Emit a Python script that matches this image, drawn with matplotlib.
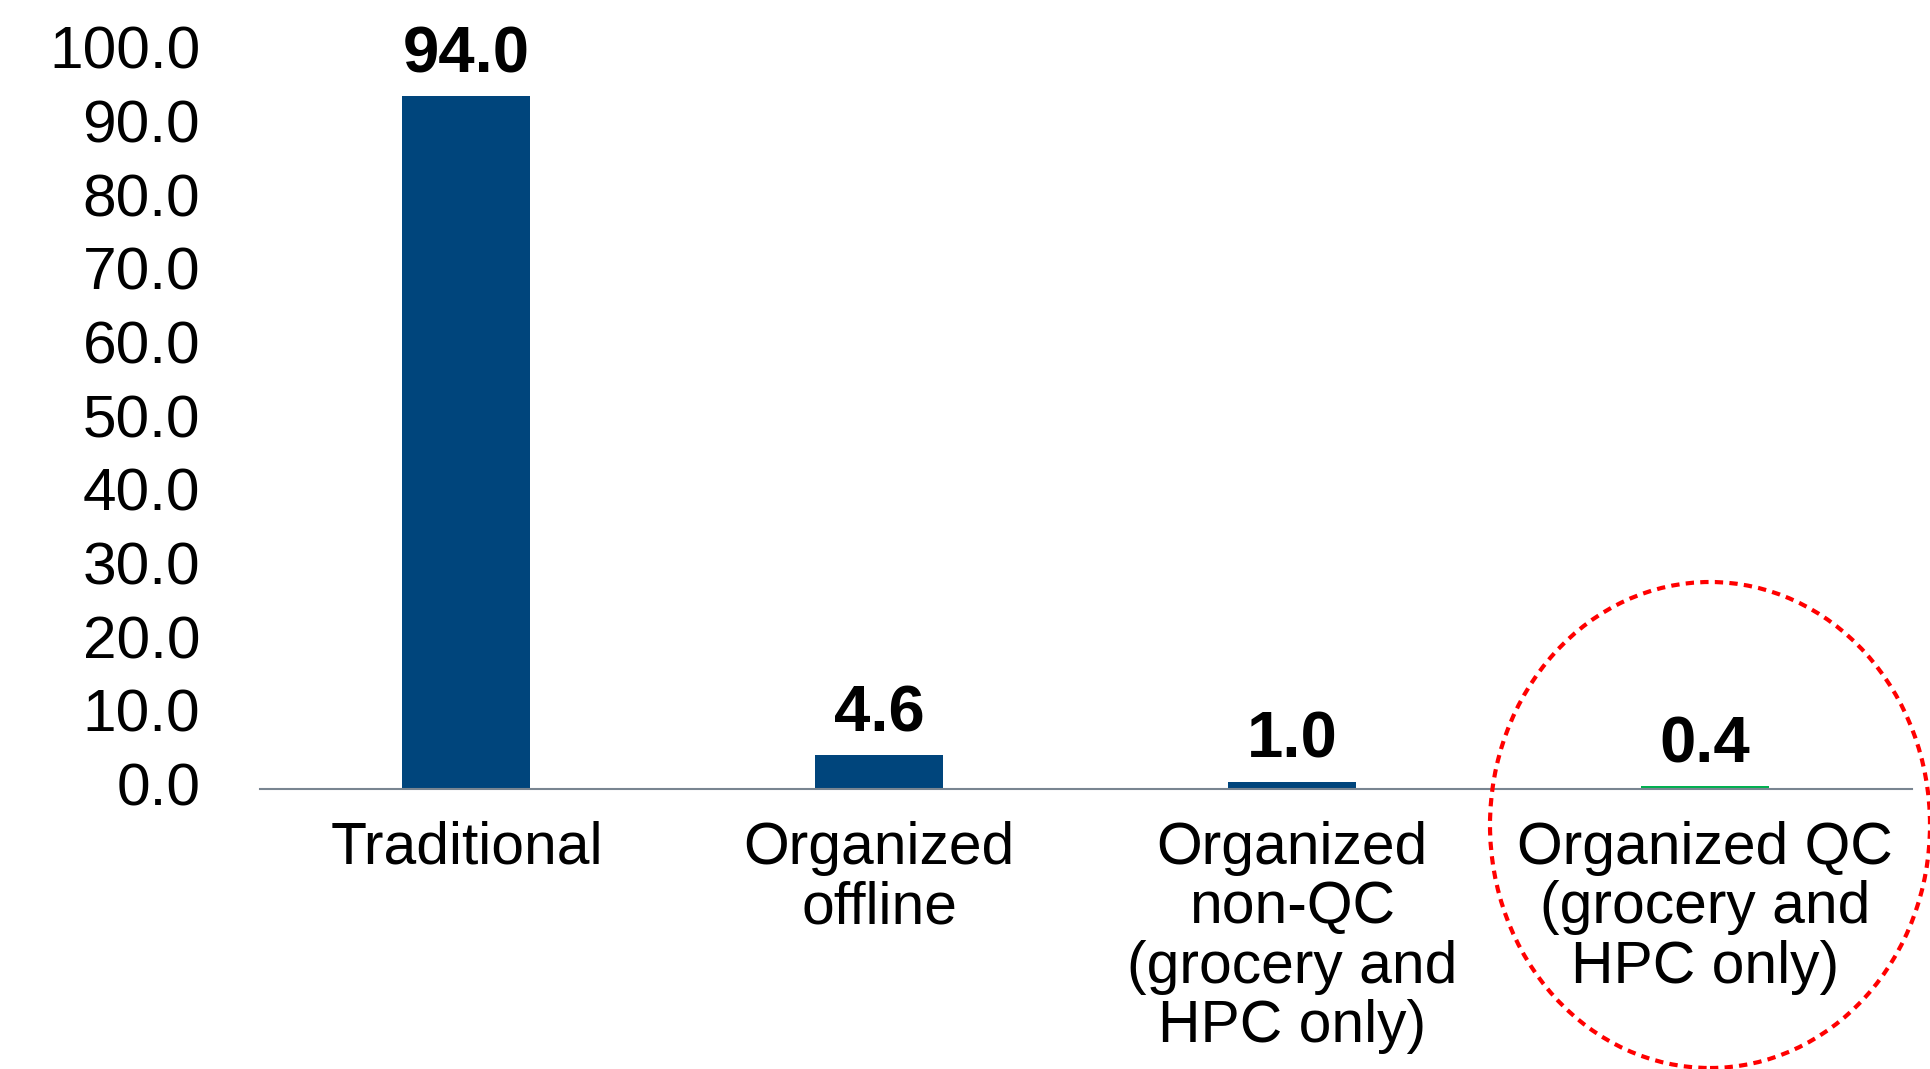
import matplotlib.pyplot as plt
import matplotlib.transforms as mtransforms
from matplotlib.patches import Ellipse

plt.rcParams['font.family'] = ['Liberation Sans', 'DejaVu Sans']

# Data
categories = ['Traditional', 'Organized\noffline', 'Organized\nnon-QC\n(grocery and\nHPC only)',
              'Organized QC\n(grocery and\nHPC only)']
values = [94.0, 4.6, 1.0, 0.4]
bar_colors = ['#00457C', '#00457C', '#00457C', '#00B050']
y_ticks = [0, 10, 20, 30, 40, 50, 60, 70, 80, 90, 100]

fig = plt.figure(figsize=(19.31, 10.69), dpi=100)
ax = fig.add_axes([0.1346, 0.2619, 0.8554, 0.6894])

x = list(range(len(categories)))
bars = ax.bar(x, values, width=0.31, color=bar_colors)

ax.set_xlim(-0.5, 3.5)
ax.set_ylim(0, 100)
ax.set_yticks(y_ticks)
ax.set_yticklabels([f'{t:.1f}' for t in y_ticks], fontsize=43.5)
ax.set_xticks(x)
ax.set_xticklabels(categories, fontsize=42.3, linespacing=1.1)
ax.tick_params(axis='y', length=0, pad=43)
ax.tick_params(axis='x', length=0, pad=23)

# nudge y tick labels up a little
shift = mtransforms.ScaledTranslation(0, 3.5 / 72, fig.dpi_scale_trans)
for lbl in ax.get_yticklabels():
    lbl.set_transform(lbl.get_transform() + shift)

for side in ['top', 'right', 'left']:
    ax.spines[side].set_visible(False)
ax.spines['bottom'].set_color('#798591')
ax.spines['bottom'].set_linewidth(1.5)

# value labels above bars
for b, v in zip(bars, values):
    ax.annotate(f'{v:.1f}', (b.get_x() + b.get_width() / 2, b.get_height()),
                xytext=(0, 29.5), textcoords='offset points',
                ha='center', va='center', fontsize=47, fontweight='bold')

# red dotted circle highlighting the QC bar
circle = Ellipse((1710 / 1931, 1 - 825 / 1069), 440 / 1931, 486 / 1069,
                 transform=fig.transFigure, fill=False, edgecolor='#FF0000',
                 linewidth=3.0, linestyle=(0, (2, 1.5)), clip_on=False)
fig.patches.append(circle)

fig.savefig('out.png', dpi=100)
